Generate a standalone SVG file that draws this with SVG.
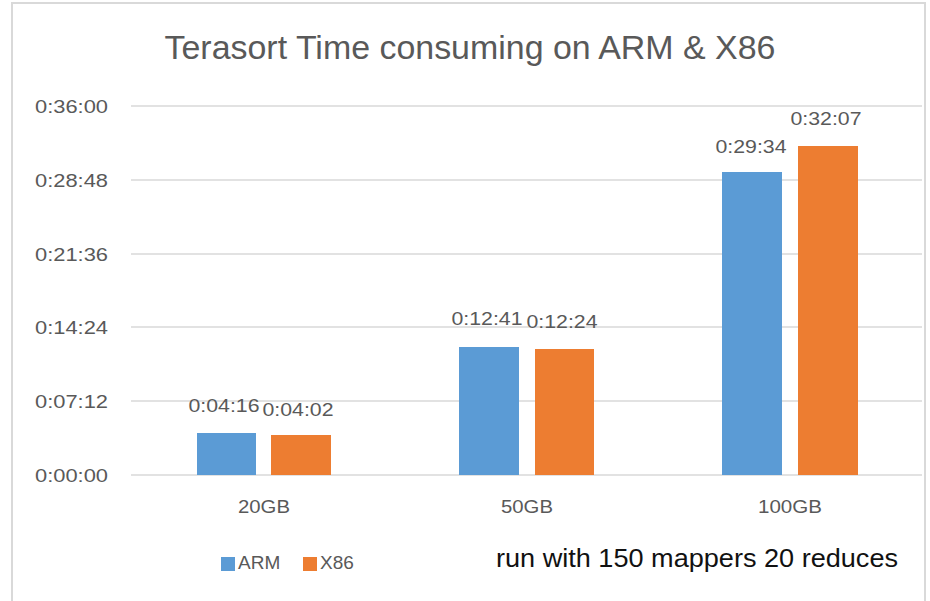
<svg xmlns="http://www.w3.org/2000/svg" width="930" height="601" viewBox="0 0 930 601">
<style>
.t{font-family:"Liberation Sans",Arial,sans-serif;fill:#595959}
.ax{font-size:19px;text-anchor:end}
.lb{font-size:19px;text-anchor:middle}
.grid{stroke:#d9d9d9;stroke-width:1.5}
.arm{fill:#5b9bd5}
.x86{fill:#ed7d31}
</style>
<rect width="930" height="601" fill="#ffffff"/>
<rect x="12" y="3" width="913" height="620" fill="#ffffff" stroke="#d9d9d9" stroke-width="2"/>
<text class="t" x="470" y="59" font-size="33" text-anchor="middle" textLength="611" lengthAdjust="spacingAndGlyphs">Terasort Time consuming on ARM &amp; X86</text>
<g id="axis">
<line class="grid" x1="131" y1="106" x2="922" y2="106"/>
<line class="grid" x1="131" y1="180" x2="922" y2="180"/>
<line class="grid" x1="131" y1="254" x2="922" y2="254"/>
<line class="grid" x1="131" y1="327" x2="922" y2="327"/>
<line class="grid" x1="131" y1="401" x2="922" y2="401"/>
<line class="grid" x1="131" y1="475" x2="922" y2="475"/>
<text class="t ax" x="108" y="113" textLength="73" lengthAdjust="spacingAndGlyphs">0:36:00</text>
<text class="t ax" x="108" y="187" textLength="73" lengthAdjust="spacingAndGlyphs">0:28:48</text>
<text class="t ax" x="108" y="261" textLength="73" lengthAdjust="spacingAndGlyphs">0:21:36</text>
<text class="t ax" x="108" y="334" textLength="73" lengthAdjust="spacingAndGlyphs">0:14:24</text>
<text class="t ax" x="108" y="408" textLength="73" lengthAdjust="spacingAndGlyphs">0:07:12</text>
<text class="t ax" x="108" y="482" textLength="73" lengthAdjust="spacingAndGlyphs">0:00:00</text>
</g>
<g id="g20">
<rect class="arm" x="197" y="433" width="59" height="42"/>
<rect class="x86" x="271" y="435" width="60" height="40"/>
<text class="t lb" x="224" y="412" textLength="71" lengthAdjust="spacingAndGlyphs">0:04:16</text>
<text class="t lb" x="298" y="416" textLength="71" lengthAdjust="spacingAndGlyphs">0:04:02</text>
<text class="t lb" x="264" y="513" textLength="52" lengthAdjust="spacingAndGlyphs">20GB</text>
</g>
<g id="g50">
<rect class="arm" x="459" y="347" width="60" height="128"/>
<rect class="x86" x="535" y="349" width="59" height="126"/>
<text class="t lb" x="487" y="325" textLength="71" lengthAdjust="spacingAndGlyphs">0:12:41</text>
<text class="t lb" x="562" y="328" textLength="71" lengthAdjust="spacingAndGlyphs">0:12:24</text>
<text class="t lb" x="527" y="513" textLength="52" lengthAdjust="spacingAndGlyphs">50GB</text>
</g>
<g id="g100">
<rect class="arm" x="722" y="172" width="60" height="303"/>
<rect class="x86" x="798" y="146" width="60" height="329"/>
<text class="t lb" x="751" y="153" textLength="71" lengthAdjust="spacingAndGlyphs">0:29:34</text>
<text class="t lb" x="826" y="125" textLength="71" lengthAdjust="spacingAndGlyphs">0:32:07</text>
<text class="t lb" x="790" y="513" textLength="64" lengthAdjust="spacingAndGlyphs">100GB</text>
</g>
<g id="legend">
<rect class="arm" x="221" y="557" width="14" height="14"/>
<text class="t" x="238" y="569" font-size="19">ARM</text>
<rect class="x86" x="303" y="557" width="14" height="14"/>
<text class="t" x="320" y="569" font-size="19">X86</text>
</g>
<text x="496" y="567" font-family="Liberation Sans,Arial,sans-serif" font-size="26" fill="#111111" textLength="402" lengthAdjust="spacingAndGlyphs">run with 150 mappers 20 reduces</text>
</svg>
